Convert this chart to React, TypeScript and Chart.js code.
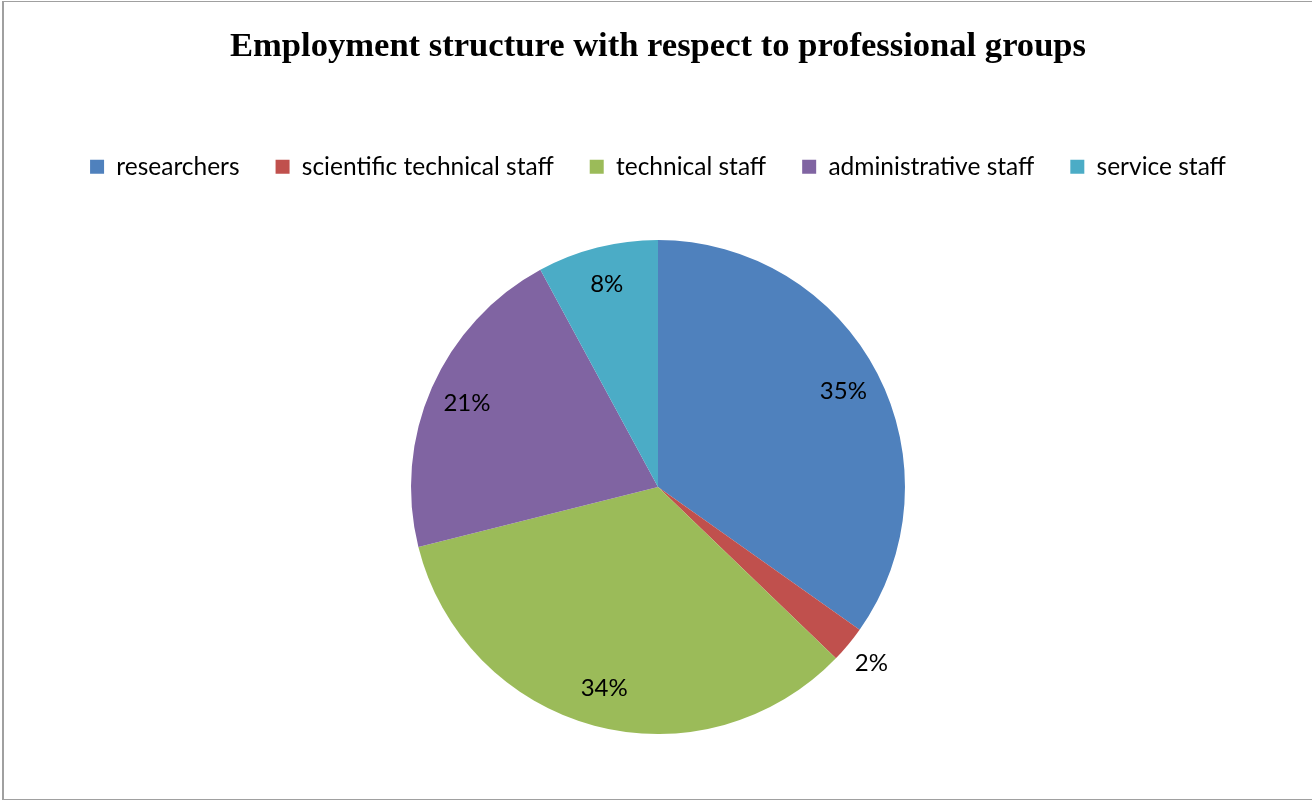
import React, { useEffect, useRef } from "react";
import { Chart, registerables } from "chart.js";

Chart.register(...registerables);

const TITLE = "Employment structure with respect to professional groups";
const categories = [
  "researchers",
  "scientific technical staff",
  "technical staff",
  "administrative staff",
  "service staff",
];
const shares = [34.8, 2.4, 33.9, 21.0, 7.9];
const colors = ["#4F81BD", "#C0504D", "#9BBB59", "#8064A2", "#4BACC6"];

const LABEL_FONT = "Lato, 'Liberation Sans', sans-serif";
const LEGEND_GAP = 51;

const legendSpacer = {
  id: "legendSpacer",
  beforeInit(chart: any) {
    const legend = chart.legend;
    if (!legend) return;
    const fit = legend.fit;
    legend.fit = function () {
      fit.call(this);
      this.height += LEGEND_GAP;
    };
  },
};

const pieLabels = {
  id: "pieLabels",
  afterDatasetsDraw(chart: any) {
    const ctx = chart.ctx;
    const meta = chart.getDatasetMeta(0);
    const data = chart.data.datasets[0].data as number[];
    const total = data.reduce((a, b) => a + b, 0);
    ctx.save();
    ctx.fillStyle = "#000";
    ctx.font = `24px ${LABEL_FONT}`;
    ctx.textAlign = "center";
    ctx.textBaseline = "middle";
    meta.data.forEach((arc: any, i: number) => {
      const p = arc.getProps(["x", "y", "startAngle", "endAngle", "outerRadius"], true);
      const mid = (p.startAngle + p.endAngle) / 2;
      const pct = (data[i] / total) * 100;
      const r = pct < 5 ? p.outerRadius + 30 : p.outerRadius * 0.845;
      ctx.fillText(`${Math.round(pct)}%`, p.x + Math.cos(mid) * r, p.y + Math.sin(mid) * r);
    });
    ctx.restore();
  },
};

export default function App() {
  const ref = useRef<HTMLCanvasElement>(null);
  useEffect(() => {
    if (!ref.current) return;
    const chart = new Chart(ref.current, {
      type: "pie",
      data: {
        labels: categories,
        datasets: [
          {
            data: shares,
            backgroundColor: colors,
            borderWidth: 0,
          },
        ],
      },
      options: {
        responsive: false,
        animation: false,
        layout: { padding: { top: 0, bottom: 67, left: 4, right: 0 } },
        plugins: {
          title: {
            display: true,
            text: TITLE,
            color: "#000",
            font: { family: "'Liberation Serif', 'Times New Roman', serif", size: 34.6, weight: "bold" },
            padding: { top: 26, bottom: 51 },
          },
          legend: {
            display: true,
            position: "top",
            labels: {
              color: "#000",
              font: { family: LABEL_FONT, size: 24.5 },
              boxWidth: 14,
              boxHeight: 14,
              padding: 36,
            },
          },
          tooltip: { enabled: false },
        },
      },
      plugins: [legendSpacer, pieLabels],
    });
    return () => chart.destroy();
  }, []);
  return (
    <div style={{ position: "fixed", left: 0, top: 0, width: 1312, height: 801, background: "#fff" }}>
      <canvas ref={ref} width={1312} height={801} style={{ display: "block" }} />
      <div
        style={{
          position: "absolute",
          left: 2,
          top: 1,
          width: 1340,
          height: 797,
          borderLeft: "2px solid #a0a0a0",
          borderTop: "1px solid #a0a0a0",
          borderBottom: "1px solid #a0a0a0",
          pointerEvents: "none",
        }}
      />
    </div>
  );
}
